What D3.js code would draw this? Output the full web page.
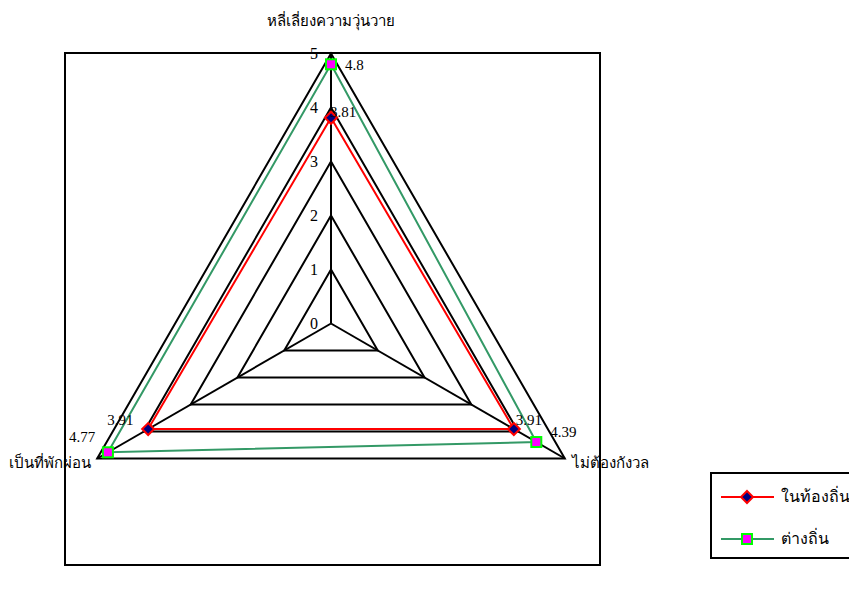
<!DOCTYPE html>
<html>
<head>
<meta charset="utf-8">
<script src="https://cdn.jsdelivr.net/npm/d3@7"></script>
<style>
  body { margin: 0; background: #fff; }
  text { font-family: "Liberation Serif", "Noto Sans", serif; }
</style>
</head>
<body>
<div id="chart"></div>
<script>
// categories and series
const categories = ["หลี่เลี่ยงความวุ่นวาย", "ไม่ต้องกังวล", "เป็นที่พักผ่อน"];
const localValues = [3.81, 3.91, 3.91];
const outsideValues = [4.8, 4.39, 4.77];
const seriesNames = ["ในท้องถิ่น", "ต่างถิ่น"];
const tickValues = [0, 1, 2, 3, 4, 5];

const width = 849;
const height = 593;
const cx = 331, cy = 323.5;

const svg = d3.select("#chart")
    .append("svg")
    .attr("width", width)
    .attr("height", height);

// plot area box
svg.append("rect")
    .attr("x", 65).attr("y", 53)
    .attr("width", 535).attr("height", 512)
    .attr("fill", "none").attr("stroke", "#000").attr("stroke-width", 2);

const r = d3.scaleLinear().domain([0, 5]).range([0, 270]);
const angle = d3.scaleBand().domain(categories).range([0, 2 * Math.PI]).padding(0).align(0);

function pt(cat, v) {
    const a = angle(cat);
    return [cx + r(v) * Math.sin(a), cy - r(v) * Math.cos(a)];
}

const g = svg.append("g");

// grid rings
tickValues.filter(t => t > 0).forEach(t => {
    g.append("polygon")
        .attr("points", categories.map(c => pt(c, t).join(",")).join(" "))
        .attr("fill", "none").attr("stroke", "#000").attr("stroke-width", 2);
});

// spokes
categories.forEach(c => {
    const p = pt(c, 5);
    g.append("line")
        .attr("x1", cx).attr("y1", cy)
        .attr("x2", p[0]).attr("y2", p[1])
        .attr("stroke", "#000").attr("stroke-width", 2);
});

// tick labels
g.selectAll(".tick")
    .data(tickValues)
    .enter()
    .append("text")
    .attr("x", cx - 13)
    .attr("y", d => cy - r(d) + 5)
    .attr("text-anchor", "end")
    .attr("font-size", 16)
    .text(d => d);

// category labels
const catPos = [
    {x: 331, y: 26, anchor: "middle"},
    {x: 572, y: 468, anchor: "start"},
    {x: 91, y: 468, anchor: "end"}
];
categories.forEach((c, i) => {
    svg.append("text")
        .attr("x", catPos[i].x).attr("y", catPos[i].y)
        .attr("text-anchor", catPos[i].anchor)
        .attr("font-size", 15)
        .text(c);
});

const line = d3.line().curve(d3.curveLinearClosed);

// series
const series = [
    {name: seriesNames[0], values: localValues, color: "#ff0000", marker: "diamond", fill: "#000080", mstroke: "#ff0000"},
    {name: seriesNames[1], values: outsideValues, color: "#339966", marker: "square", fill: "#ff00ff", mstroke: "#00ff00"}
];

function drawMarker(sel, s, x, y) {
    if (s.marker === "diamond") {
        sel.append("path")
            .attr("d", "M0,-6L6,0L0,6L-6,0Z")
            .attr("transform", `translate(${x},${y})`)
            .attr("fill", s.fill).attr("stroke", s.mstroke).attr("stroke-width", 2);
    } else {
        sel.append("rect")
            .attr("x", x - 5).attr("y", y - 5)
            .attr("width", 10).attr("height", 10)
            .attr("fill", s.fill).attr("stroke", s.mstroke).attr("stroke-width", 2);
    }
}

series.forEach(s => {
    const pts = categories.map((c, i) => pt(c, s.values[i]));
    g.append("path")
        .attr("d", line(pts))
        .attr("fill", "none").attr("stroke", s.color).attr("stroke-width", 2);
});

series.forEach(s => {
    categories.forEach((c, i) => drawMarker(g, s, ...pt(c, s.values[i])));
});

// data labels
const labelOffsets = [
    [[-1, -1], [2, -4], [-41, -4]],
    [[14, 6], [14, -5], [-39, -10]]
];
series.forEach((s, si) => {
    categories.forEach((c, i) => {
        const p = pt(c, s.values[i]);
        g.append("text")
            .attr("x", p[0] + labelOffsets[si][i][0])
            .attr("y", p[1] + labelOffsets[si][i][1])
            .attr("font-size", 15)
            .text(s.values[i]);
    });
});

// legend
const legend = svg.append("g");
legend.append("rect")
    .attr("x", 711).attr("y", 473)
    .attr("width", 142).attr("height", 85)
    .attr("fill", "#fff").attr("stroke", "#000").attr("stroke-width", 2);

series.forEach((s, i) => {
    const y = 497 + i * 42;
    legend.append("line")
        .attr("x1", 721).attr("x2", 774)
        .attr("y1", y).attr("y2", y)
        .attr("stroke", s.color).attr("stroke-width", 2);
    drawMarker(legend, s, 747, y);
    legend.append("text")
        .attr("x", 781).attr("y", y + 5)
        .attr("font-size", 16)
        .text(s.name);
});
</script>
</body>
</html>
